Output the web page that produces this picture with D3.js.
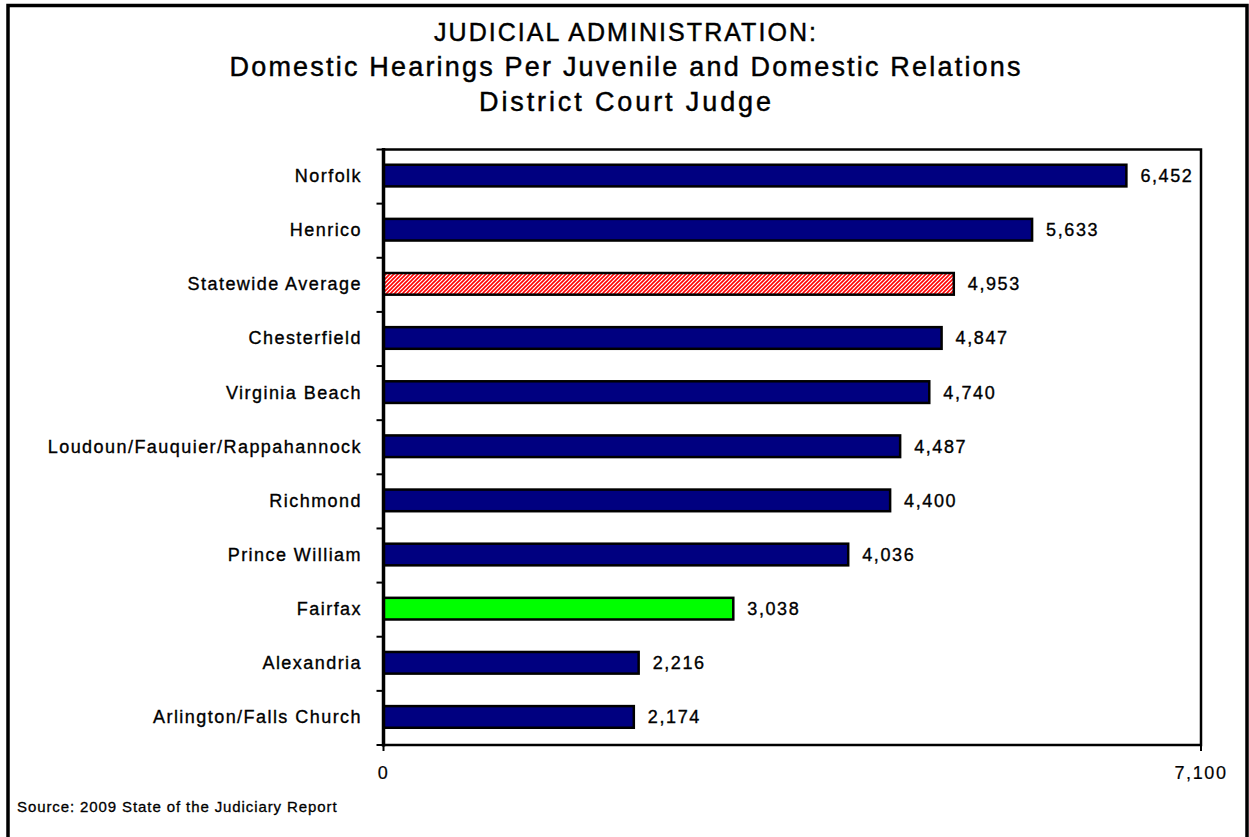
<!DOCTYPE html>
<html>
<head>
<meta charset="utf-8">
<script src="https://cdn.jsdelivr.net/npm/d3@7"></script>
<style>
  html, body { margin: 0; padding: 0; background: #fff; }
  svg { display: block; }
  text { font-family: "Liberation Sans", Arial, sans-serif; fill: #000; stroke: #000; }
</style>
</head>
<body>
<svg id="chart" width="1249" height="837"></svg>
<script>
const categories = ["Norfolk", "Henrico", "Statewide Average", "Chesterfield", "Virginia Beach",
  "Loudoun/Fauquier/Rappahannock", "Richmond", "Prince William", "Fairfax", "Alexandria",
  "Arlington/Falls Church"];
const values = [6452, 5633, 4953, 4847, 4740, 4487, 4400, 4036, 3038, 2216, 2174];
const barKinds = ["county", "county", "average", "county", "county", "county", "county", "county", "highlight", "county", "county"];
const xTickValues = [0, 7100];
const titleLines = ["JUDICIAL ADMINISTRATION:", "Domestic Hearings Per Juvenile and Domestic Relations", "District Court Judge"];
const sourceText = "Source: 2009 State of the Judiciary Report";

const plot = { left: 383.5, right: 1201, top: 149.5, bottom: 745 };
const svg = d3.select("#chart");

// patterns
const defs = svg.append("defs");
const pat = defs.append("pattern").attr("id", "hatch").attr("patternUnits", "userSpaceOnUse")
  .attr("width", 4).attr("height", 4);
pat.append("rect").attr("width", 4).attr("height", 4).attr("fill", "#fff");
pat.append("path").attr("d", "M-1,1 l2,-2 M0,4 l4,-4 M3,5 l2,-2")
  .attr("stroke", "#ff0000").attr("stroke-width", 1.6);

const fillFor = { county: "#000080", average: "url(#hatch)", highlight: "#00ff00" };

// outer frame
svg.append("rect").attr("x", 8).attr("y", 5.5).attr("width", 1239).attr("height", 840)
  .attr("fill", "none").attr("stroke", "#000").attr("stroke-width", 3.5);

// title
const titleY = [41, 76, 111];
const titleWidths = [382, 791, 292];
const titleSizes = [25, 27, 27];
svg.append("g").selectAll("text").data(titleLines).join("text")
  .attr("x", 625).attr("y", (d, i) => titleY[i]).attr("text-anchor", "middle")
  .attr("font-size", (d, i) => titleSizes[i]).attr("stroke-width", 0.45)
  .attr("textLength", (d, i) => titleWidths[i]).attr("lengthAdjust", "spacing")
  .text(d => d);

// scales
const x = d3.scaleLinear().domain([0, 7100]).range([plot.left, plot.right]);
const yCell = d3.scaleBand().domain(categories).range([plot.top, plot.bottom]).padding(0);
const y = d3.scaleBand().domain(categories).range([plot.top, plot.bottom])
  .paddingInner(0.6).paddingOuter(0.3);

// plot border
svg.append("rect").attr("x", plot.left).attr("y", plot.top)
  .attr("width", plot.right - plot.left).attr("height", plot.bottom - plot.top)
  .attr("fill", "none").attr("stroke", "#000").attr("stroke-width", 2.5);

// bars
svg.append("g").selectAll("rect").data(categories).join("rect")
  .attr("x", x(0))
  .attr("y", d => y(d) - 1)
  .attr("width", (d, i) => x(values[i]) - x(0))
  .attr("height", y.bandwidth())
  .attr("fill", (d, i) => fillFor[barKinds[i]])
  .attr("stroke", "#000").attr("stroke-width", 2.5);

// value labels
svg.append("g").selectAll("text").data(categories).join("text")
  .attr("x", (d, i) => x(values[i]) + 14)
  .attr("y", d => y(d) + y.bandwidth() / 2 - 1)
  .attr("dy", "0.36em")
  .attr("font-size", 18).attr("letter-spacing", 1.6).attr("stroke-width", 0.35)
  .text((d, i) => d3.format(",")(values[i]));

// left axis: category labels + ticks at cell boundaries
const yAxis = svg.append("g");
const boundaries = categories.map(c => yCell(c)).concat([plot.bottom]);
yAxis.selectAll("line.tick").data(boundaries).join("line")
  .attr("x1", plot.left - 7).attr("x2", plot.left)
  .attr("y1", d => d).attr("y2", d => d)
  .attr("stroke", "#000").attr("stroke-width", 2);
yAxis.append("line").attr("x1", plot.left).attr("x2", plot.left)
  .attr("y1", plot.top - 1.5).attr("y2", plot.bottom + 1.5)
  .attr("stroke", "#000").attr("stroke-width", 3.5);
yAxis.selectAll("text").data(categories).join("text")
  .attr("x", 362).attr("y", d => y(d) + y.bandwidth() / 2 - 1)
  .attr("dy", "0.36em").attr("text-anchor", "end")
  .attr("font-size", 18).attr("letter-spacing", 1.45).attr("stroke-width", 0.35)
  .text(d => d);

// bottom axis
const xAxis = svg.append("g");
xAxis.selectAll("line").data(xTickValues).join("line")
  .attr("x1", d => x(d)).attr("x2", d => x(d))
  .attr("y1", plot.bottom).attr("y2", plot.bottom + 6)
  .attr("stroke", "#000").attr("stroke-width", 2);
xAxis.selectAll("text").data(xTickValues).join("text")
  .attr("x", d => x(d)).attr("y", 779).attr("text-anchor", "middle")
  .attr("font-size", 18).attr("letter-spacing", 1.6).attr("stroke-width", 0.2)
  .text(d => d3.format(",")(d));

// source
svg.append("text").attr("x", 17).attr("y", 812).attr("font-size", 15)
  .attr("letter-spacing", 0.9).attr("stroke-width", 0.3).text(sourceText);
</script>
</body>
</html>
